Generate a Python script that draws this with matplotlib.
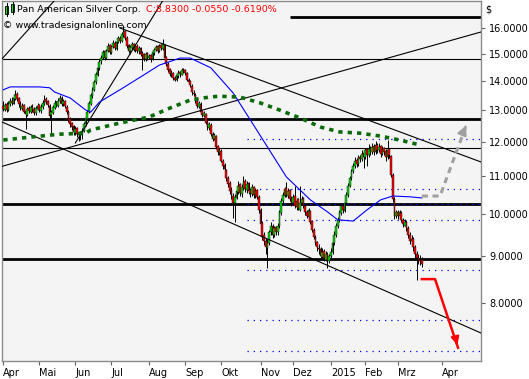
import matplotlib
matplotlib.use("Agg")
import matplotlib.pyplot as plt
from matplotlib.lines import Line2D
from matplotlib.patches import Rectangle
from matplotlib.ticker import FixedLocator, NullLocator

# --- daily OHLC, Pan American Silver, Apr 2014 .. Mar 2015 (bar index = trading day) ---
opens = [
    13.15, 13.02, 13.20, 13.00, 13.20, 13.32, 13.22, 13.38, 13.55, 13.40,
    13.22, 13.05, 13.18, 12.98, 12.85, 13.08, 12.95, 13.12, 13.05, 12.90,
    13.05, 13.18, 12.98, 13.10, 13.22, 13.38, 13.30, 13.15, 12.85, 12.92,
    13.08, 13.28, 13.15, 13.30, 13.42, 13.20, 13.32, 13.12, 12.95, 12.72,
    12.58, 12.48, 12.28, 12.42, 12.28, 12.18, 12.25, 12.35, 12.55, 12.72,
    12.95, 13.22, 13.48, 13.68, 13.95, 14.22, 14.45, 14.72, 14.85, 15.08,
    14.82, 15.10, 15.32, 15.02, 15.25, 15.42, 15.18, 15.45, 15.62, 15.48,
    15.72, 15.88, 15.62, 15.32, 15.08, 15.22, 15.38, 15.12, 15.30, 15.08,
    15.22, 15.02, 14.98, 14.78, 15.02, 14.82, 14.95, 14.80, 15.02, 15.15,
    15.28, 15.08, 15.32, 15.18, 15.32, 14.88, 14.62, 14.42, 14.22, 14.28,
    14.12, 14.02, 14.18, 14.32, 14.22, 14.42, 14.38, 14.28, 14.05, 13.98,
    13.82, 13.58, 13.52, 13.32, 13.12, 13.22, 12.98, 12.82, 12.88, 12.62,
    12.42, 12.52, 12.25, 12.08, 12.18, 11.88, 11.68, 11.72, 11.45, 11.32,
    11.18, 10.95, 10.82, 10.62, 10.48, 10.28, 10.42, 10.58, 10.78, 10.52,
    10.68, 10.88, 10.62, 10.82, 10.62, 10.52, 10.72, 10.48, 10.62, 10.45,
    10.10, 9.78, 9.48, 9.35, 9.18, 9.30, 9.55, 9.72, 9.48, 9.68,
    9.55, 9.70, 10.02, 10.35, 10.48, 10.68, 10.48, 10.62, 10.42, 10.28,
    10.48, 10.18, 10.38, 10.12, 10.28, 10.42, 10.22, 10.05, 9.92, 10.08,
    9.82, 9.62, 9.45, 9.32, 9.18, 9.15, 8.98, 9.12, 8.92, 9.05,
    8.88, 9.00, 9.08, 9.30, 9.48, 9.70, 9.85, 10.02, 10.22, 10.08,
    10.30, 10.50, 10.75, 10.95, 11.15, 11.30, 11.48, 11.35, 11.55, 11.50,
    11.68, 11.55, 11.78, 11.60, 11.82, 11.70, 11.88, 11.70, 11.92, 11.75,
    11.88, 11.65, 11.82, 11.72, 11.55, 11.78, 11.58, 11.05, 10.40, 9.95,
    10.05, 9.95, 10.02, 9.85, 9.72, 9.80, 9.65, 9.50, 9.35, 9.40,
    9.20, 9.05, 8.95, 8.90, 8.92,
]
highs = [
    13.30, 13.25, 13.28, 13.30, 13.42, 13.45, 13.55, 13.70, 13.62, 13.45,
    13.30, 13.25, 13.22, 13.05, 13.12, 13.15, 13.18, 13.20, 13.10, 13.15,
    13.25, 13.22, 13.20, 13.35, 13.50, 13.45, 13.35, 13.20, 13.00, 13.18,
    13.35, 13.32, 13.42, 13.52, 13.48, 13.38, 13.35, 13.18, 13.00, 12.78,
    12.62, 12.52, 12.48, 12.45, 12.32, 12.35, 12.42, 12.62, 12.82, 13.02,
    13.30, 13.58, 13.78, 14.02, 14.32, 14.55, 14.80, 14.95, 15.15, 15.12,
    15.18, 15.40, 15.38, 15.32, 15.52, 15.48, 15.52, 15.70, 15.68, 15.82,
    16.12, 15.92, 15.68, 15.38, 15.32, 15.45, 15.42, 15.38, 15.35, 15.28,
    15.25, 15.08, 15.02, 15.05, 15.05, 15.00, 15.00, 15.12, 15.22, 15.32,
    15.32, 15.38, 15.35, 15.55, 15.38, 14.92, 14.68, 14.48, 14.38, 14.32,
    14.18, 14.28, 14.38, 14.35, 14.48, 14.45, 14.42, 14.32, 14.10, 14.02,
    13.88, 13.70, 13.58, 13.38, 13.32, 13.28, 13.02, 12.98, 12.92, 12.68,
    12.62, 12.58, 12.30, 12.28, 12.22, 11.92, 11.82, 11.78, 11.50, 11.38,
    11.22, 11.02, 10.88, 10.70, 10.55, 10.52, 10.68, 10.88, 10.82, 10.78,
    11.00, 10.92, 10.88, 10.85, 10.68, 10.78, 10.75, 10.68, 10.65, 10.50,
    10.15, 9.82, 9.55, 9.42, 9.40, 9.62, 9.80, 9.75, 9.72, 9.72,
    9.78, 10.12, 10.42, 10.58, 10.72, 10.85, 10.68, 10.65, 10.48, 10.52,
    10.75, 10.42, 10.42, 10.75, 10.48, 10.45, 10.25, 10.10, 10.15, 10.12,
    9.85, 9.66, 9.50, 9.35, 9.28, 9.20, 9.18, 9.15, 9.12, 9.08,
    9.05, 9.18, 9.38, 9.58, 9.78, 9.92, 10.12, 10.28, 10.25, 10.38,
    10.58, 10.82, 11.02, 11.22, 11.38, 11.55, 11.52, 11.62, 11.62, 11.75,
    11.72, 11.82, 11.82, 11.95, 11.88, 11.98, 11.95, 12.02, 11.98, 11.98,
    11.92, 11.88, 11.85, 11.78, 12.06, 11.82, 11.62, 11.10, 10.45, 10.12,
    10.10, 10.12, 10.08, 9.90, 9.88, 9.85, 9.70, 9.55, 9.48, 9.45,
    9.25, 9.12, 9.05, 9.02, 8.98,
]
lows = [
    12.98, 12.98, 12.95, 12.98, 13.15, 13.18, 13.20, 13.35, 13.30, 13.12,
    13.00, 13.00, 12.90, 12.40, 12.80, 12.92, 12.90, 12.95, 12.85, 12.85,
    13.00, 12.95, 12.92, 13.05, 13.18, 13.20, 13.10, 12.70, 12.25, 12.88,
    13.05, 13.10, 13.12, 13.25, 13.15, 13.15, 13.08, 12.88, 12.62, 12.45,
    12.38, 12.22, 12.20, 12.15, 12.02, 12.05, 12.10, 12.30, 12.50, 12.68,
    12.90, 13.18, 13.42, 13.65, 13.90, 14.18, 14.40, 14.60, 14.78, 14.75,
    14.78, 15.05, 14.98, 14.98, 15.20, 15.12, 15.15, 15.40, 15.42, 15.45,
    15.65, 15.52, 15.22, 15.02, 15.00, 15.18, 15.08, 15.05, 15.02, 15.00,
    14.92, 14.40, 14.72, 14.72, 14.75, 14.78, 14.70, 14.75, 14.95, 15.08,
    15.02, 15.05, 15.12, 15.15, 14.80, 14.52, 14.32, 14.18, 14.15, 14.02,
    13.98, 13.98, 14.12, 14.15, 14.20, 14.28, 14.22, 13.98, 13.88, 13.78,
    13.52, 13.48, 13.25, 13.08, 13.08, 12.90, 12.78, 12.78, 12.55, 12.38,
    12.38, 12.18, 12.02, 12.05, 11.80, 11.62, 11.62, 11.40, 11.22, 11.12,
    10.88, 10.72, 10.52, 10.40, 9.90, 9.80, 10.38, 10.52, 10.48, 10.45,
    10.62, 10.58, 10.55, 10.52, 10.45, 10.48, 10.42, 10.42, 10.38, 10.02,
    9.68, 9.38, 9.25, 9.05, 8.73, 9.25, 9.50, 9.42, 9.45, 9.48,
    9.50, 9.65, 9.98, 10.30, 10.45, 10.45, 10.42, 10.35, 10.22, 10.25,
    10.15, 10.12, 10.10, 10.08, 10.25, 10.15, 9.98, 9.90, 9.88, 9.75,
    9.55, 9.40, 9.25, 9.12, 9.05, 8.92, 8.95, 8.88, 8.88, 8.73,
    8.85, 8.95, 9.05, 9.25, 9.45, 9.65, 9.80, 9.98, 10.02, 10.05,
    10.25, 10.45, 10.70, 10.90, 11.10, 11.25, 11.28, 11.30, 11.40, 11.45,
    11.25, 11.50, 11.30, 11.55, 11.62, 11.65, 11.62, 11.65, 11.68, 11.70,
    11.55, 11.60, 11.62, 11.45, 11.50, 11.52, 10.98, 10.32, 9.88, 9.90,
    9.88, 9.90, 9.80, 9.68, 9.70, 9.58, 9.42, 9.28, 9.30, 9.12,
    8.95, 8.47, 8.82, 8.80, 8.75,
]
closes = [
    13.05, 13.18, 13.02, 13.22, 13.30, 13.25, 13.40, 13.52, 13.38, 13.20,
    13.08, 13.15, 12.95, 12.88, 13.05, 12.98, 13.10, 13.02, 12.92, 13.08,
    13.15, 13.00, 13.12, 13.25, 13.35, 13.28, 13.18, 12.80, 12.95, 13.10,
    13.25, 13.18, 13.32, 13.40, 13.22, 13.30, 13.15, 12.95, 12.70, 12.55,
    12.45, 12.30, 12.40, 12.25, 12.20, 12.28, 12.35, 12.55, 12.75, 12.95,
    13.25, 13.50, 13.70, 13.95, 14.25, 14.45, 14.70, 14.85, 15.05, 14.85,
    15.10, 15.30, 15.05, 15.25, 15.40, 15.20, 15.45, 15.60, 15.50, 15.75,
    15.85, 15.60, 15.30, 15.10, 15.25, 15.35, 15.15, 15.30, 15.10, 15.20,
    15.00, 14.95, 14.80, 15.00, 14.85, 14.92, 14.80, 15.05, 15.15, 15.25,
    15.10, 15.30, 15.20, 15.35, 14.85, 14.60, 14.40, 14.25, 14.30, 14.10,
    14.05, 14.20, 14.30, 14.25, 14.40, 14.35, 14.30, 14.05, 13.95, 13.85,
    13.60, 13.55, 13.30, 13.15, 13.25, 12.95, 12.85, 12.90, 12.60, 12.45,
    12.55, 12.25, 12.10, 12.20, 11.85, 11.70, 11.75, 11.45, 11.30, 11.20,
    10.95, 10.80, 10.60, 10.50, 10.30, 10.45, 10.60, 10.75, 10.55, 10.70,
    10.85, 10.65, 10.80, 10.60, 10.55, 10.70, 10.50, 10.60, 10.45, 10.10,
    9.75, 9.45, 9.35, 9.20, 9.30, 9.55, 9.70, 9.50, 9.65, 9.55,
    9.70, 10.05, 10.35, 10.50, 10.65, 10.50, 10.60, 10.40, 10.30, 10.45,
    10.20, 10.35, 10.15, 10.30, 10.40, 10.20, 10.05, 9.95, 10.10, 9.80,
    9.60, 9.45, 9.30, 9.20, 9.15, 9.00, 9.10, 8.95, 9.05, 8.90,
    9.00, 9.10, 9.30, 9.50, 9.70, 9.85, 10.05, 10.20, 10.10, 10.30,
    10.50, 10.75, 10.95, 11.15, 11.30, 11.45, 11.35, 11.55, 11.50, 11.65,
    11.55, 11.75, 11.60, 11.80, 11.70, 11.85, 11.70, 11.90, 11.75, 11.85,
    11.65, 11.80, 11.70, 11.55, 11.75, 11.60, 11.05, 10.40, 9.95, 10.05,
    9.95, 10.05, 9.85, 9.75, 9.80, 9.65, 9.50, 9.35, 9.40, 9.20,
    9.05, 8.95, 8.90, 8.88, 8.83,
]

# moving averages (bar index, value)
ma_fast_bar = [0, 4, 21, 27, 30, 39, 48, 51, 56, 68, 80, 91, 103, 109, 115, 121,
               134, 144, 154, 165, 179, 189, 195, 204, 212, 220, 227, 237, 244]
ma_fast_val = [13.69, 13.79, 13.79, 13.76, 13.61, 13.41, 13.01, 12.94, 13.27, 13.69,
               14.14, 14.57, 14.83, 14.83, 14.65, 14.47, 13.58, 12.69, 11.85, 10.99,
               10.37, 10.06, 9.86, 9.83, 10.11, 10.37, 10.47, 10.45, 10.42]
ma_slow_bar = [0, 16, 33, 48, 51, 68, 85, 97, 109, 120, 126, 138, 150, 161, 173,
               185, 196, 208, 220, 231, 243]
ma_slow_val = [12.06, 12.15, 12.24, 12.27, 12.37, 12.59, 12.78, 13.07, 13.34, 13.44,
               13.47, 13.44, 13.24, 13.01, 12.75, 12.46, 12.31, 12.27, 12.18, 12.06, 11.91]

# trendlines: (bar0, price0, bar1, price1)
trendlines = [
    (-1.9, 14.72, 33.0, 17.41),
    (42.0, 11.97, 93.1, 17.16),
    (-1.9, 11.27, 278.5, 15.84),
    (68.0, 16.00, 278.5, 11.41),
    (-1.9, 12.65, 278.5, 7.41),
]
# horizontal support/resistance levels
thin_levels = [14.80, 11.83]
thick_levels = [12.71, 10.26, 8.93]
top_level = (167, 16.46)
dotted_levels = [12.09, 10.66, 10.26, 9.86, 8.69, 7.66, 7.08]
dotted_start = 142

# scenarios
bull_bar = [244, 254.6, 270.4]
bull_val = [10.47, 10.47, 12.59]
bear_bar = [244, 251.7, 265.1]
bear_val = [8.49, 8.49, 7.14]

month_pos = [0, 21, 42, 63, 85, 106, 127, 150, 169, 191, 211, 230, 256]
month_lbl = ["Apr", "Mai", "Jun", "Jul", "Aug", "Sep", "Okt", "Nov", "Dez",
             "2015", "Feb", "Mrz", "Apr"]
y_ticks = [8, 9, 10, 11, 12, 13, 14, 15, 16]

W, H = 529, 379
fig = plt.figure(figsize=(W / 100, H / 100), dpi=100)
ax = fig.add_axes([1.5 / W, 18 / H, 479.5 / W, 360.5 / H])
ax.set_facecolor("#f4f4f4")
ax.set_yscale("log")
ax.set_xlim(-1.05, 278.5)
ax.set_ylim(6.905, 17.15)

# levels
for lv in thin_levels:
    ax.axhline(lv, color="black", lw=0.8, zorder=2)
for lv in thick_levels:
    ax.axhline(lv, color="black", lw=2.0, zorder=2)
ax.hlines(top_level[1], top_level[0], 278.5, color="black", lw=2.0, zorder=2)
ax.hlines(dotted_levels, dotted_start, 278.5, colors="#0000ff", lw=0.9,
          linestyles=(0, (1, 4)), zorder=2.5)

# candles
idx = list(range(len(closes)))
ax.vlines(idx, lows, highs, color="black", lw=0.7, zorder=3)
bottoms = [min(o, c) for o, c in zip(opens, closes)]
heights = [max(abs(c - o), 0.012) for o, c in zip(opens, closes)]
cols = ["#00dd00" if c >= o else "#ff0000" for o, c in zip(opens, closes)]
ax.bar(idx, heights, bottom=bottoms, width=1.0, color=cols,
       edgecolor="black", linewidth=0.3, zorder=3.1)

# trendlines
for b0, p0, b1, p1 in trendlines:
    ax.plot([b0, b1], [p0, p1], color="black", lw=0.8, zorder=4)

# moving averages
ax.plot(ma_fast_bar, ma_fast_val, color="#0000ff", lw=0.8, zorder=4)
ax.plot(ma_slow_bar, ma_slow_val, color="#0b6b0b", lw=2.6,
        linestyle=(0, (1.2, 1.4)), zorder=4)

# scenario arrows
ax.plot(bull_bar, bull_val, color="#a0a0a0", lw=2.2, linestyle=(0, (2, 1.5)),
        zorder=5)
ax.annotate("", xy=(bull_bar[-1], bull_val[-1]), xytext=(bull_bar[-1] - 1.5, bull_val[-1] * 0.985),
            arrowprops=dict(arrowstyle="-|>", color="#a0a0a0", lw=1.5,
                            mutation_scale=14), zorder=5)
ax.plot(bear_bar, bear_val, color="#ff0000", lw=1.8, zorder=5)
ax.annotate("", xy=(bear_bar[-1], bear_val[-1]), xytext=(bear_bar[-1] - 1.2, bear_val[-1] * 1.02),
            arrowprops=dict(arrowstyle="-|>", color="#ff0000", lw=1.5,
                            mutation_scale=12), zorder=5)

# axes cosmetics
for s in ax.spines.values():
    s.set_color("#8c8c8c")
    s.set_linewidth(1)
ax.yaxis.tick_right()
ax.yaxis.set_major_locator(FixedLocator(y_ticks))
ax.yaxis.set_minor_locator(NullLocator())
ax.set_yticklabels([f"{v:.4f}" for v in y_ticks])
ax.tick_params(axis="y", direction="out", length=3, width=0.8, color="#606060",
               labelsize=7, pad=3)
ax.set_xticks(month_pos)
ax.set_xticklabels(month_lbl, ha="left")
ax.tick_params(axis="x", direction="out", length=3, width=0.8, color="#606060",
               labelsize=7, pad=2)

# header
fig.add_artist(Line2D([6.5 / W, 6.5 / W], [1 - 3 / H, 1 - 16 / H], color="black", lw=0.7))
fig.add_artist(Line2D([12.5 / W, 12.5 / W], [1 - 2 / H, 1 - 14 / H], color="black", lw=0.7))
fig.add_artist(Rectangle((5 / W, 1 - 14 / H), 3 / W, 8 / H, transform=fig.transFigure,
                         facecolor="#00dd00", edgecolor="black", lw=0.6))
fig.add_artist(Rectangle((11 / W, 1 - 12 / H), 3 / W, 8 / H, transform=fig.transFigure,
                         facecolor="#00dd00", edgecolor="black", lw=0.6))
fig.text(17 / W, 1 - 10 / H, "Pan American Silver Corp.", fontsize=6.8, va="center")
fig.text(146 / W, 1 - 10 / H, "C:8.8300 -0.0550 -0.6190%", fontsize=6.8,
         va="center", color="#ff0000")
fig.text(3 / W, 1 - 25 / H, "\u00a9 www.tradesignalonline.com", fontsize=6.8, va="center")
fig.text(485 / W, 1 - 10 / H, "$", fontsize=7, va="center")

fig.savefig("out.png", dpi=100)
